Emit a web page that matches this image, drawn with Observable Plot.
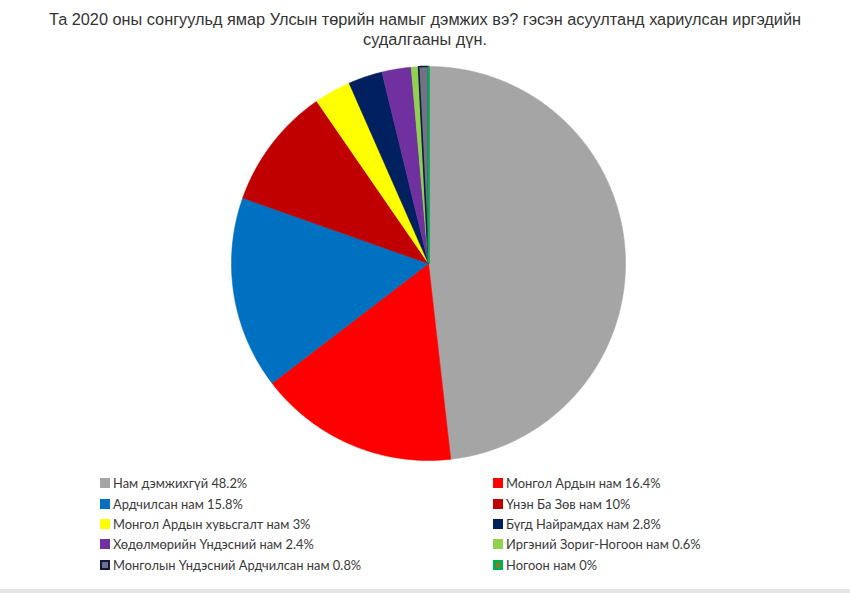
<!DOCTYPE html>
<html>
<head>
<meta charset="utf-8">
<script src="https://cdn.jsdelivr.net/npm/d3@7"></script>
<script src="https://cdn.jsdelivr.net/npm/@observablehq/plot@0.6"></script>
<style>
  html, body { margin: 0; padding: 0; background: #fff; }
  #wrap { width: 850px; height: 593px; position: relative; overflow: hidden; }
  #title { font-family: "Liberation Sans", Arial, sans-serif; font-size: 16.3px; color: #333;
           text-align: center; line-height: 20px; padding-top: 8.6px; height: 55px; box-sizing: border-box; }
  #legend { position: absolute; left: 0; top: 472px; width: 850px;
            font-family: "Lato", "Open Sans", sans-serif; font-size: 12.9px; color: #3a3a3a; }
  .item { position: absolute; display: flex; align-items: center; height: 20px; white-space: nowrap; }
  .sw { width: 10px; height: 10px; margin-right: 3px; box-sizing: border-box; }
  #band { position: absolute; left: 0; top: 589px; width: 850px; height: 4px; background: #e4e4e4; }
</style>
</head>
<body>
<div id="wrap">
  <div id="title">Та 2020 оны сонгуульд ямар Улсын төрийн намыг дэмжих вэ? гэсэн асуултанд хариулсан иргэдийн<br>судалгааны дүн.</div>
  <div id="chart"></div>
  <div id="legend"></div>
  <div id="band"></div>
</div>
<script>
// Data (clockwise from 12 o'clock)
const parties = [
  "Нам дэмжихгүй",
  "Монгол Ардын нам",
  "Ардчилсан нам",
  "Үнэн Ба Зөв нам",
  "Монгол Ардын хувьсгалт нам",
  "Бүгд Найрамдах нам",
  "Хөдөлмөрийн Үндэсний нам",
  "Иргэний Зориг-Ногоон нам",
  "Монголын Үндэсний Ардчилсан нам",
  "Ногоон нам"
];
const shares = [48.2, 16.4, 15.8, 10, 3, 2.8, 2.4, 0.6, 0.8, 0];
const labels = ["48.2%", "16.4%", "15.8%", "10%", "3%", "2.8%", "2.4%", "0.6%", "0.8%", "0%"];
const fills = ["#a5a5a5", "#ff0000", "#0070c0", "#c00000", "#ffff00", "#002060", "#7030a0", "#92d050", "#6f7384", "#00b050"];
const edges = ["#a5a5a5", "#ff0000", "#0070c0", "#c00000", "#ffff00", "#002060", "#7030a0", "#92d050", "#0f1a45", "#00b050"];

// Build slice outlines from the shares
const total = d3.sum(shares);
const rows = [];
const spokes = [];
let acc = 0;
parties.forEach((p, i) => {
  const a0 = acc / total * 2 * Math.PI;
  acc += shares[i];
  const a1 = acc / total * 2 * Math.PI;
  if (shares[i] === 0) {
    spokes.push({party: p, x1: 0, y1: 0, x2: Math.sin(a0), y2: Math.cos(a0)});
    return;
  }
  const n = Math.max(4, Math.ceil((a1 - a0) / (Math.PI / 720)));
  rows.push({party: p, x: 0, y: 0});
  for (let k = 0; k <= n; k++) {
    const a = a0 + (a1 - a0) * k / n;
    rows.push({party: p, x: Math.sin(a), y: Math.cos(a)});
  }
  rows.push({party: p, x: 0, y: 0});
});

const R = 197, cx = 428, cy = 208, H = 412;
const chart = Plot.plot({
  width: 850,
  height: H,
  marginLeft: cx - R,
  marginRight: 850 - cx - R,
  marginTop: cy - R,
  marginBottom: H - cy - R,
  x: {domain: [-1, 1], axis: null},
  y: {domain: [-1, 1], axis: null},
  color: {domain: parties, range: fills},
  marks: [
    Plot.line(rows, {x: "x", y: "y", z: "party", fill: "party",
      stroke: d => d.party, strokeWidth: 0.6, curve: "linear"}),
    Plot.line(rows.filter(d => d.party === parties[8]), {x: "x", y: "y", stroke: edges[8], strokeWidth: 1.6}),
    Plot.link(spokes, {x1: "x1", y1: "y1", x2: "x2", y2: "y2", stroke: fills[9], strokeWidth: 2})
  ]
});
document.getElementById("chart").append(chart);

// Legend
const legend = document.getElementById("legend");
const colX = [100, 493];
const rowY = [1, 21.5, 41.5, 62, 82.5];
parties.forEach((p, i) => {
  const el = document.createElement("div");
  el.className = "item";
  el.style.left = colX[i % 2] + "px";
  el.style.top = rowY[Math.floor(i / 2)] + "px";
  const sw = document.createElement("div");
  sw.className = "sw";
  sw.style.background = fills[i];
  if (i === 8) { sw.style.border = "2px solid " + edges[8]; }
  if (i === 9) { sw.style.border = "3px solid " + fills[9]; sw.style.background = "#a0701a"; }
  el.append(sw);
  const t = document.createElement("span");
  t.textContent = p + " " + labels[i];
  el.append(t);
  legend.append(el);
});
</script>
</body>
</html>
